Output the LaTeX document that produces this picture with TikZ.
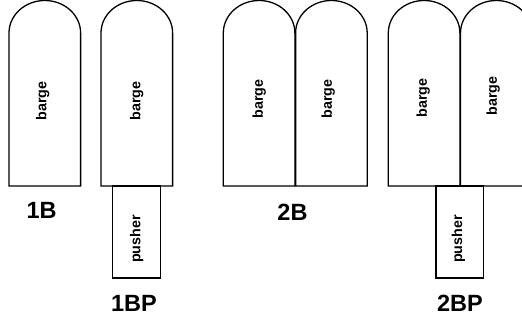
\documentclass[tikz,border=0pt]{standalone}
\usepackage{fontspec}
\setmainfont{Liberation Sans}

\begin{document}
\begin{tikzpicture}[x=1pt,y=1pt,line width=1.3pt,
  bargetext/.style={rotate=90,font=\bfseries\fontsize{14.3}{17}\selectfont},
  configtext/.style={anchor=base,font=\bfseries\fontsize{23.5}{28}\selectfont}]
  \def\W{71.6}
  \def\Bot{138}
  \def\Top{291}
  \def\Ry{32.5}
  \def\PushBot{46}

  \path[use as bounding box] (0,0) rectangle (522,324);
  \clip (0,0) rectangle (522,324);

  % single barge
  \draw (9,\Bot) -- (9,\Top) arc[start angle=180,end angle=0,x radius=0.5*\W,y radius=\Ry]
    -- (9+\W,\Bot) -- cycle;
  \node[bargetext] (barge1B) at (42.7,223) {barge};
  \node[configtext] (lbl1B) at (41.7,105) {1B};

  % single barge with pusher
  \draw (112.7,\PushBot) rectangle (160.7,\Bot);
  \draw (101,\Bot) -- (101,\Top) arc[start angle=180,end angle=0,x radius=0.5*\W,y radius=\Ry]
    -- (101+\W,\Bot) -- cycle;
  \node[bargetext] (barge1BP) at (136.7,223) {barge};
  \node[bargetext] (pusher1BP) at (136.7,85) {pusher};
  \node[configtext] (lbl1BP) at (134,12.3) {1BP};

  % two barges
  \draw (223.3,\Bot) -- (223.3,\Top) arc[start angle=180,end angle=0,x radius=0.5*\W,y radius=\Ry]
    -- (223.3+\W,\Bot) -- cycle;
  \draw (295.6,\Bot) -- (295.6,\Top) arc[start angle=180,end angle=0,x radius=0.5*\W,y radius=\Ry]
    -- (295.6+\W,\Bot) -- cycle;
  \node[bargetext] (barge2Ba) at (259.3,225) {barge};
  \node[bargetext] (barge2Bb) at (328.3,225) {barge};
  \node[configtext] (lbl2B) at (292.5,103.3) {2B};

  % two barges with pusher
  \draw (436,\PushBot) rectangle (483.3,\Bot);
  \draw (388.3,\Bot) -- (388.3,\Top) arc[start angle=180,end angle=0,x radius=0.5*\W,y radius=\Ry]
    -- (388.3+\W,\Bot) -- cycle;
  \draw (460.5,\Bot) -- (460.5,\Top) arc[start angle=180,end angle=0,x radius=0.5*\W,y radius=\Ry]
    -- (460.5+\W,\Bot) -- cycle;
  \node[bargetext] (barge2BPa) at (423.3,226) {barge};
  \node[bargetext] (barge2BPb) at (493.3,228) {barge};
  \node[bargetext] (pusher2BP) at (458.3,85) {pusher};
  \node[configtext] (lbl2BP) at (460,12.3) {2BP};
\end{tikzpicture}
\end{document}
